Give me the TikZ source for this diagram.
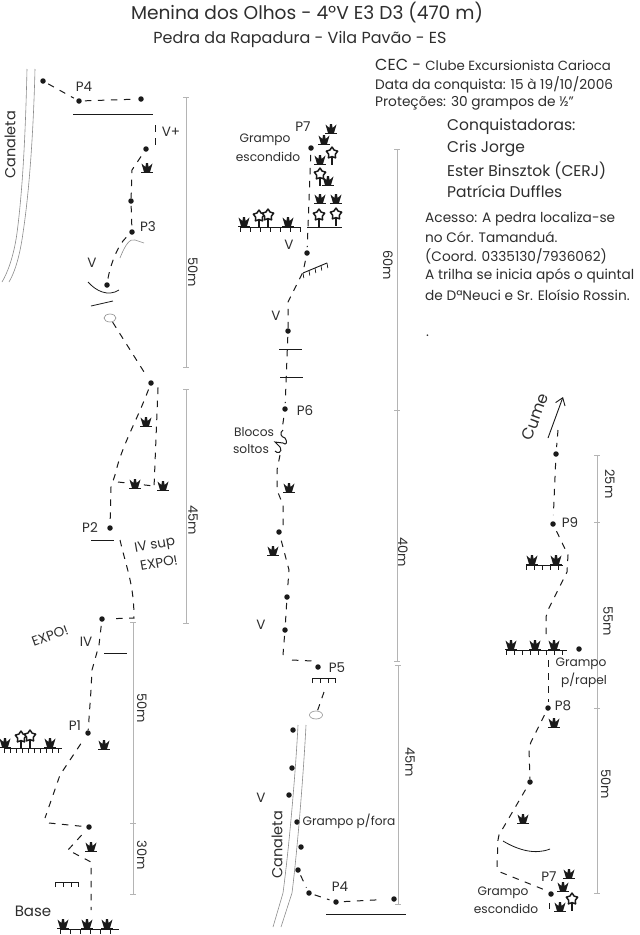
\documentclass[tikz,border=0pt]{standalone}
\usepackage{fontspec}
\setmainfont{Poppins}
\usetikzlibrary{arrows.meta}
\definecolor{ink}{HTML}{1A1A1A}
\definecolor{txt}{HTML}{2E2E2E}
\definecolor{scalebar}{HTML}{B4B4B4}
\definecolor{softline}{HTML}{8C8C8C}
\tikzset{
  route/.style={draw=ink,line width=1pt,dash pattern=on 6.5pt off 6.5pt},
  bolt/.style={circle,fill=ink,inner sep=0pt,minimum size=5.5pt},
  lbl/.style={text=txt,inner sep=0pt,font=\fontsize{13.5}{14}\selectfont},
  channel/.style={text=txt,inner sep=0pt,rotate=90,font=\fontsize{14.5}{15}\selectfont},
  small/.style={text=txt,inner sep=0pt,font=\fontsize{12.2}{13}\selectfont},
  metres/.style={text=txt,inner sep=0pt,rotate=-90,font=\fontsize{13}{14}\selectfont},
  info/.style={text=txt,inner sep=0pt,anchor=west,font=\fontsize{13.7}{14}\selectfont},
  big/.style={text=txt,inner sep=0pt,anchor=west,font=\fontsize{15.5}{16}\selectfont},
  ledge/.style={draw=ink,line width=1pt},
  groove/.style={draw=softline,line width=0.6pt},
  scalep/.style={draw=scalebar,line width=0.8pt},
  tuft/.pic={
    \fill[ink] (-6,3.6) -- (6,3.6) -- (6,5.2) -- (-6,5.2) -- cycle;
    \fill[ink] (-3,4) -- (-5.5,-4.5) -- (-1.6,-1) -- (-1,-4.8) -- (1,-4.8) -- (1.6,-1) -- (5.5,-4.5) -- (3,4) -- cycle;
  },
  flower/.pic={
    \draw[ink,line width=1.4pt] (0,2) -- (0,12);
    \draw[ink,line width=1.5pt,fill=white,line join=round,yscale=-1]
      (90:6) -- (126:3.6) -- (162:6) -- (198:3.6) -- (234:6) -- (270:3.6) -- (306:6) -- (342:3.6) -- (18:6) -- (54:3.6) -- cycle;
  }
}
\newcommand{\scalemark}[3]{% x, y1, y2
  \draw[scalep] (#1,#2) -- (#1,#3);
  \draw[scalep] (#1-3,#2) -- (#1+3,#2);
  \draw[scalep] (#1-3,#3) -- (#1+3,#3);
}
\newcommand{\ground}[4]{% x1,x2,y,step
  \draw[ledge] (#1,#3) -- (#2,#3);
  \foreach \gx in {#1,#4,...,#2} \draw[ink,line width=0.7pt] (\gx,#3) -- (\gx,#3+5);
}
\begin{document}
\begin{tikzpicture}[x=1pt,y=-1pt]
\useasboundingbox (0,0) rectangle (640,935);
\fill[white] (0,0) rectangle (640,935);

% ---------- heading
\node[text=txt,inner sep=0pt,font=\fontsize{18.6}{19}\selectfont] (title) at (307,13) {Menina dos Olhos - 4ºV E3 D3 (470 m)};
\node[text=txt,inner sep=0pt,font=\fontsize{16}{17}\selectfont] (sub) at (300,39) {Pedra da Rapadura - Vila Pavão - ES};
\node[info] (cec) at (375,65) {\fontsize{16}{16}\selectfont CEC - \fontsize{13.3}{14}\selectfont Clube Excursionista Carioca};
\node[info] (data) at (375,85) {Data da conquista: 15 à 19/10/2006};
\node[info] (prot) at (375,103) {Proteções: 30 grampos de ½”};
\node[big] (c0) at (447,127) {Conquistadoras:};
\node[big] (c1) at (447,149) {Cris Jorge};
\node[big] (c2) at (447,171) {Ester Binsztok (CERJ)};
\node[big] (c3) at (447,192) {Patrícia Duffles};
\node[info] (a1) at (425,219) {Acesso: A pedra localiza-se};
\node[info] (a2) at (425,237) {no Cór. Tamanduá.};
\node[info] (a3) at (425,256) {(Coord. 0335130/7936062)};
\node[info] (a4) at (425,276) {A trilha se inicia após o quintal};
\node[info] (a5) at (425,295) {de DªNeuci e Sr. Eloísio Rossin.};
\node[info] (a6) at (426,336) {.};

% ---------- scale bars
\scalemark{186}{97}{367}
\scalemark{186}{389}{623}
\scalemark{133}{622}{823}
\scalemark{133}{823}{894}
\scalemark{397}{149}{410}
\scalemark{397}{410}{661}
\scalemark{398}{665}{904}
\scalemark{597}{455}{522}
\scalemark{597}{522}{708}
\scalemark{597}{708}{893}
\foreach \lx/\ly/\lt/\ln in {193/272/50m/s1,193/520/45m/s2,142/708/50m/s3,142/855/30m/s4,388/265/60m/s5,403/552/40m/s6,410/762/45m/s7,610/484/25m/s8,608/621/55m/s9,606/784/50m/s10}
  \node[metres] (\ln) at (\lx,\ly) {\lt};

% ---------- left column: canaleta
\draw[groove] (27,69) .. controls (26,110) and (24,180) .. (17,233) .. controls (14,255) and (8,272) .. (2,282);
\draw[groove] (35,69) .. controls (34,110) and (31,180) .. (23,233) .. controls (20,255) and (15,272) .. (9,282);
\node[channel] (canal1) at (10,145) {Canaleta};

% left column: bolts
\node[bolt] (l1) at (43,81) {};
\node[bolt] (l2) at (79,101) {};
\node[bolt] (l3) at (141,99) {};
\node[bolt] (l4) at (146,149) {};
\node[bolt] (l5) at (131,201) {};
\node[bolt] (l6) at (132,232) {};
\node[bolt] (l7) at (107,285) {};
\node[bolt] (l8) at (151,383) {};
\node[bolt] (l9) at (110,528) {};
\node[bolt] (l10) at (102,619) {};
\node[bolt] (l11) at (88,733) {};
\node[bolt] (l12) at (89,827) {};

% left column: routes
\draw[route,shorten <=3pt,shorten >=3pt] (l1) -- (l2);
\draw[route,shorten <=3pt,shorten >=3pt] (l2) -- (l3);
\coordinate (top1) at (155,125);
\draw[route,shorten >=4pt] (top1) -- (155,145) -- (l4);
\draw[route,shorten <=6pt] (l4) -- (132,170) -- (l5);
\draw[route,shorten <=2pt,shorten >=2pt] (l5) -- (l6);
\draw[route,shorten <=5pt,shorten >=2pt] (l6) .. controls (118,245) and (110,265) .. (l7);
\coordinate (oval1) at (110,318);
\draw[route,shorten <=5pt,shorten >=4pt] (oval1) -- (l8);
\draw[route,shorten <=4pt] (l8) .. controls (135,425) and (122,445) .. (115,475) -- (111,487) -- (l9);
\draw[route,shorten <=6pt] (l8) -- (158,388) -- (154,488);
\coordinate (ledge2) at (118,482);
\coordinate (ledge3) at (154,486);
\draw[route] (ledge2) -- (ledge3);
\coordinate (p2under) at (120,540);
\draw[route,shorten >=5pt] (p2under) .. controls (127,570) and (134,585) .. (134,618) -- (l10);
\draw[route,shorten <=4pt] (l10) -- (99,645) -- (92,670) -- (91,690) -- (l11);
\draw[route,shorten <=10pt] (l11) -- (60,775) -- (45,818);
\coordinate (cr1) at (49,823);
\draw[route,shorten >=4pt] (cr1) -- (l12);
\coordinate (cr2) at (91,862);
\draw[route,shorten <=8pt] (l12) -- (68,850) -- (cr2) -- (91,910);

% left column: ledges
\draw[ledge] (73,114) -- (153,114);
\draw[ledge] (91,540) -- (114,540);
\draw[ink,line width=0.7pt] (104,653) -- (127,653);
\draw[ink,line width=0.8pt] (88,282) .. controls (96,291) and (108,297) .. (119,290);
\draw[ink,line width=0.8pt] (91,306) -- (113,301);
\draw[groove] (120,258) .. controls (125,245) and (130,238) .. (135,240) -- (144,243);
\draw[groove] (110,318) ellipse (6 and 4);
\draw[ink,line width=0.8pt] (55,887) -- (55,882) -- (78,882) -- (78,887);
\draw[ink,line width=0.8pt] (63,882) -- (63,887) (71,882) -- (71,887);

% left column: plants
\foreach \px/\py in {147/168,146/422,135/484,163/486,104/745,91/847}
  \pic at (\px,\py) {tuft};
\ground{4}{62}{748}{10}
\foreach \px in {5,50} \pic at (\px,743) {tuft};
\foreach \px/\py in {21/737,30/736} \pic at (\px,\py) {flower};
\ground{60}{119}{929}{70}
\foreach \px in {63,87,107} \pic at (\px,924) {tuft};

% left column: labels
\node[lbl] (tP4) at (84,87) {P4};
\node[lbl] (tVp) at (171,132) {V+};
\node[lbl] (tP3) at (148,227) {P3};
\node[lbl] (tV1) at (92,263) {V};
\node[lbl] (tP2) at (90,528) {P2};
\node[lbl,rotate=10] (tIV) at (155,546) {IV sup};
\node[lbl,rotate=10] (tEX2) at (159,563) {EXPO!};
\node[lbl,rotate=20] (tEX) at (50,636) {EXPO!};
\node[lbl] (tIV2) at (86,642) {IV};
\node[lbl] (tP1) at (75,726) {P1};
\node[lbl,font=\fontsize{15}{15}\selectfont] (tB) at (33,911) {Base};

% ---------- middle column: bolts
\node[bolt] (m1) at (311,148) {};
\node[bolt] (m2) at (307,253) {};
\node[bolt] (m3) at (288,331) {};
\node[bolt] (m4) at (285,409) {};
\node[bolt] (m5) at (279,532) {};
\node[bolt] (m6) at (287,597) {};
\node[bolt] (m7) at (285,630) {};
\node[bolt] (m8) at (318,667) {};
\node[bolt] (m9) at (293,730) {};
\node[bolt] (m10) at (292,768) {};
\node[bolt] (m11) at (289,795) {};
\node[bolt] (m12) at (297,822) {};
\node[bolt] (m13) at (301,847) {};
\node[bolt] (m14) at (298,870) {};
\node[bolt] (m15) at (309,893) {};
\node[bolt] (m16) at (336,902) {};
\node[bolt] (m17) at (394,899) {};

% middle column: routes
\draw[route,shorten <=4pt,shorten >=3pt] (m1) -- (m2);
\draw[route,shorten <=5pt] (m2) -- (303,272) -- (288,302) -- (m3);
\draw[route,shorten <=3pt,shorten >=3pt] (m3) -- (m4);
\draw[route,shorten <=6pt] (m4) -- (282,430) ;
\coordinate (bl) at (280,455);
\draw[route,shorten >=3pt] (bl) -- (277,470) -- (277,490) -- (283,505) -- (283,525) -- (m5);
\draw[route,shorten <=6pt,shorten >=3pt] (m5) -- (289,570) -- (m6);
\draw[route,shorten <=3pt,shorten >=3pt] (m6) -- (m7);
\draw[route,shorten <=3pt] (m7) -- (283,655);
\coordinate (mh) at (292,660);
\coordinate (mh2) at (312,661);
\draw[route] (mh) -- (mh2);
\coordinate (oval2) at (316,715);
\coordinate (roof2) at (324,692);
\draw[route,shorten >=5pt] (roof2) -- (oval2);
\draw[route,shorten <=3pt,shorten >=3pt] (m14) -- (m15);
\draw[route,shorten <=3pt,shorten >=4pt] (m15) -- (m16);
\draw[route,shorten <=5pt,shorten >=12pt] (m16) -- (m17);

% middle column: lines
\draw[groove] (298,725) .. controls (296,765) and (290,840) .. (283,893) -- (273,927);
\draw[groove] (306,725) .. controls (304,765) and (298,845) .. (292,893) -- (281,927);
\draw[groove] (oval2) ellipse (6.5 and 4);
\draw[ink,line width=0.8pt] (312,683) -- (312,678) -- (335,678) -- (335,683) (320,678) -- (320,683) (328,678) -- (328,683);
\draw[ledge] (326,914) -- (406,914);
\draw[ledge] (279,349) -- (302,349);
\draw[ledge] (280,377) -- (303,377);
\draw[ink,line width=0.9pt] (303,273) -- (327,263);
\foreach \tx/\ty in {303/273,309/270.5,315/268,321/265.5,327/263} \draw[ink,line width=0.7pt] (\tx,\ty) -- (\tx+0.8,\ty+5);
\draw[ink,line width=1pt] (283,430) .. controls (279,433) and (281,437) .. (285,438) .. controls (288,442) and (286,446) .. (283,443) -- (275,442) -- (280,447) .. controls (283,453) and (277,454) .. (275,451);

% middle column: plants
\foreach \px/\py in {331/129,324/140,320/160,328/181,320/199,336/199}
  \pic at (\px,\py) {tuft};
\foreach \px/\py in {289/488,273/551} \pic at (\px,\py) {tuft};
\foreach \px/\py in {332/153,320/174,319/215,336/214} \pic at (\px,\py) {flower};
\draw[ledge] (307,227) -- (342,227);
\ground{240}{300}{227}{250}
\foreach \px in {244,288} \pic at (\px,222) {tuft};
\foreach \px/\py in {259/216,268/215} \pic at (\px,\py) {flower};

% middle column: labels
\node[lbl] (tP7) at (303,127) {P7};
\node[small] (tG1) at (265,140) {Grampo};
\node[small] (tG2) at (268,157) {escondido};
\node[lbl] (tV2) at (289,245) {V};
\node[lbl] (tV3) at (276,316) {V};
\node[lbl] (tP6) at (305,411) {P6};
\node[small] (tB1) at (254,432) {Blocos};
\node[small] (tB2) at (251,449) {soltos};
\node[lbl] (tV4) at (261,625) {V};
\node[lbl] (tP5) at (337,668) {P5};
\node[lbl] (tV5) at (261,798) {V};
\node[channel] (canal2) at (277,845) {Canaleta};
\node[small] (tGf) at (349,821) {Grampo p/fora};
\node[lbl] (tP42) at (340,887) {P4};

% ---------- right column: bolts
\node[bolt] (r1) at (556,454) {};
\node[bolt] (r2) at (553,524) {};
\node[bolt] (r3) at (579,649) {};
\node[bolt] (r4) at (548,708) {};
\node[bolt] (r5) at (530,782) {};
\node[bolt] (r6) at (551,894) {};

% right column: routes
\coordinate (ra) at (558,430);
\draw[route,shorten >=4pt] (ra) -- (r1);
\draw[route,shorten <=6pt,shorten >=6pt] (r1) -- (r2);
\draw[route,shorten <=5pt] (r2) -- (568,555) -- (567,572) -- (548,610) -- (546,617) -- (546,635);
\coordinate (rb) at (548,660);
\draw[route,shorten >=3pt] (rb) -- (r4);
\draw[route,shorten <=5pt] (r4) -- (531,742) -- (529,748) -- (r5);
\draw[route,shorten <=6pt] (r5) -- (499,835) -- (498,840) -- (497,867) -- (500,872) -- (545,890);
\coordinate (rc) at (549,903);
\coordinate (rd) at (549,909);
\draw[route] (rc) -- (rd);

% right column: arrow, lines, plants
\coordinate (arrA) at (548,438);
\coordinate (arrB) at (563,397);
\draw[ink,line width=0.9pt,-{Straight Barb[length=7pt,width=10pt]}] (arrA) -- (arrB);
\draw[ink,line width=0.8pt] (503,841) .. controls (518,850) and (535,855) .. (550,849);
\ground{526}{563}{565}{534}
\foreach \px in {532,556} \pic at (\px,560) {tuft};
\ground{506}{567}{650}{514}
\foreach \px in {511,535,554} \pic at (\px,645) {tuft};
\foreach \px/\py in {554/723,523/819,569/874,563/887,560/907} \pic at (\px,\py) {tuft};
\pic at (572,899) {flower};

% right column: labels
\node[lbl,rotate=70,font=\fontsize{16}{16}\selectfont] (tC) at (535,417) {Cume};
\node[lbl] (tP9) at (570,523) {P9};
\node[small] (tG3) at (581,664) {Grampo};
\node[small] (tG4) at (584,680) {p/rapel};
\node[lbl] (tP8) at (563,706) {P8};
\node[lbl] (tP72) at (549,877) {P7};
\node[small] (tG5) at (503,893) {Grampo};
\node[small] (tG6) at (506,909) {escondido};
\end{tikzpicture}
\end{document}
